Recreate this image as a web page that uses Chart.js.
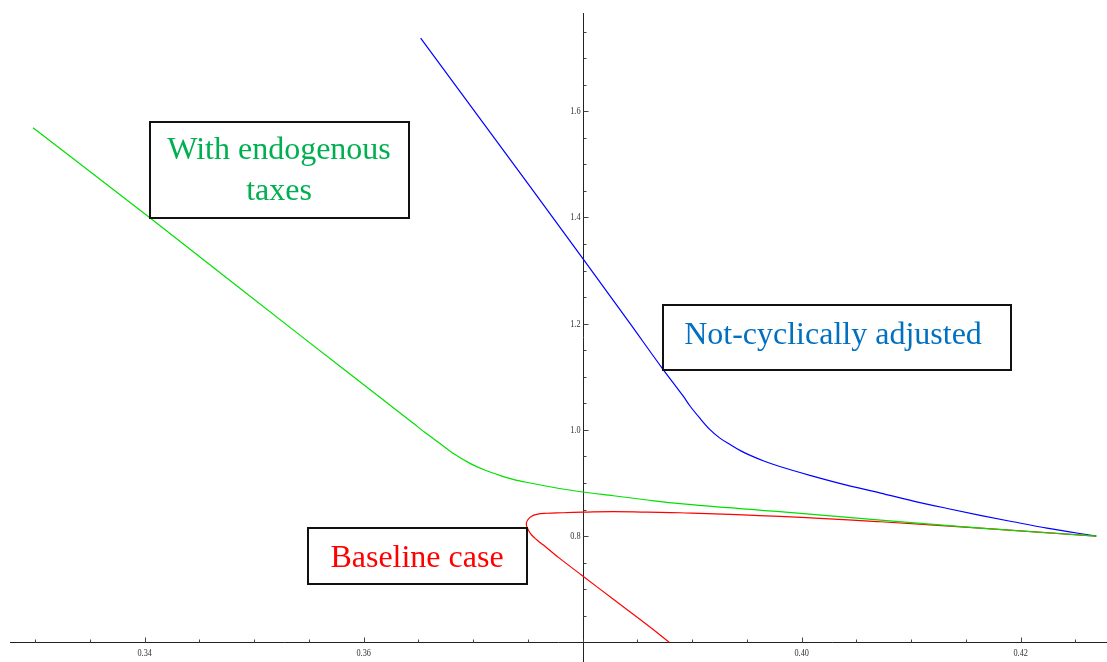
<!DOCTYPE html>
<html>
<head>
<meta charset="utf-8">
<title>Debt limits</title>
<script src="https://cdn.jsdelivr.net/npm/chart.js@4.4.1/dist/chart.umd.min.js"></script>
<style>
  html, body { margin: 0; padding: 0; background: #fff; }
  #wrap { width: 1107px; height: 662px; }
</style>
</head>
<body>
<div id="wrap"><canvas id="plot" width="1107" height="662"></canvas></div>
<script>
// "With endogenous taxes" (green)
const endoX = [0.3298, 0.3405, 0.3542, 0.3645, 0.3656, 0.3670, 0.3683, 0.3697, 0.3711, 0.3725,
               0.3738, 0.3752, 0.3770, 0.3800, 0.3828, 0.3859, 0.3889, 0.3980, 0.4072, 0.4163, 0.4269];
const endoY = [1.569, 1.399, 1.178, 1.013, 0.995, 0.974, 0.954, 0.937, 0.924, 0.914,
               0.906, 0.900, 0.893, 0.883, 0.876, 0.868, 0.861, 0.846, 0.830, 0.815, 0.800];

// "Not-cyclically adjusted" (blue)
const notAdjX = [0.3652, 0.3752, 0.3800, 0.3843, 0.3873, 0.3892, 0.3898, 0.3907, 0.3916, 0.3925,
                 0.3935, 0.3944, 0.3953, 0.3966, 0.3980, 0.4010, 0.4041, 0.4072, 0.4102, 0.4133,
                 0.4163, 0.4193, 0.4224, 0.4269];
const notAdjY = [1.738, 1.458, 1.323, 1.201, 1.115, 1.063, 1.045, 1.022, 1.001, 0.985,
                 0.972, 0.961, 0.952, 0.941, 0.931, 0.913, 0.896, 0.881, 0.866, 0.852,
                 0.839, 0.827, 0.815, 0.800];

// "Baseline case" (red), from the lower end up round the turn and out to the right
const baseX = [0.3879, 0.3862, 0.3828, 0.3800, 0.3779, 0.3766, 0.3758, 0.3753, 0.3750, 0.37485,
               0.3750, 0.3753, 0.3758, 0.3767, 0.3782, 0.3800, 0.3828, 0.3859, 0.3889, 0.3980,
               0.4072, 0.4163, 0.4269];
const baseY = [0.600, 0.628, 0.681, 0.725, 0.758, 0.780, 0.793, 0.803, 0.813, 0.823,
               0.831, 0.837, 0.841, 0.843, 0.844, 0.845, 0.846, 0.845, 0.844, 0.837,
               0.827, 0.815, 0.800];

// axes
const xRange = [0.326785, 0.427881];
const yRange = [0.5629, 1.8096];
const axisOrigin = { x: 0.38, y: 0.6 };
const xTickValues = [0.34, 0.36, 0.40, 0.42];
const xTickLabels = ['0.34', '0.36', '0.40', '0.42'];
const yTickValues = [0.8, 1.0, 1.2, 1.4, 1.6];
const yTickLabels = ['0.8', '1.0', '1.2', '1.4', '1.6'];

const toPoints = (xs, ys) => xs.map((x, i) => ({ x: x, y: ys[i] }));

const drawAxes = {
  id: 'drawAxes',
  beforeDatasetsDraw(chart) {
    const ctx = chart.ctx;
    const sx = chart.scales.x, sy = chart.scales.y;
    const ox = Math.round(sx.getPixelForValue(axisOrigin.x)) + 0.5;
    const oy = Math.round(sy.getPixelForValue(axisOrigin.y)) + 0.5;
    ctx.save();
    ctx.strokeStyle = '#222';
    ctx.lineWidth = 1;
    ctx.beginPath();
    ctx.moveTo(sx.getPixelForValue(0.3277), oy);
    ctx.lineTo(sx.right, oy);
    ctx.moveTo(ox, sy.getPixelForValue(1.785));
    ctx.lineTo(ox, sy.bottom);
    ctx.stroke();

    // tick marks (minor every 0.005 / 0.05, major on labels)
    ctx.strokeStyle = '#444';
    ctx.beginPath();
    for (let v = 0.33; v < 0.4275; v += 0.005) {
      const p = Math.round(sx.getPixelForValue(v)) + 0.5;
      const major = xTickValues.some(t => Math.abs(t - v) < 1e-6);
      ctx.moveTo(p, oy);
      ctx.lineTo(p, oy - (major ? 5 : 3));
    }
    for (let v = 0.65; v < 1.76; v += 0.05) {
      const p = Math.round(sy.getPixelForValue(v)) + 0.5;
      const major = yTickValues.some(t => Math.abs(t - v) < 1e-6);
      ctx.moveTo(ox, p);
      ctx.lineTo(ox + (major ? 5 : 3), p);
    }
    ctx.stroke();

    ctx.fillStyle = '#333';
    ctx.font = '11px "Liberation Serif"';
    ctx.textBaseline = 'middle';
    ctx.textAlign = 'center';
    xTickValues.forEach((v, i) => {
      ctx.save();
      ctx.translate(sx.getPixelForValue(v), oy + 11);
      ctx.scale(0.75, 1);
      ctx.fillText(xTickLabels[i], 0, 0);
      ctx.restore();
    });
    ctx.textAlign = 'right';
    yTickValues.forEach((v, i) => {
      ctx.save();
      ctx.translate(ox - 3, sy.getPixelForValue(v));
      ctx.scale(0.75, 1);
      ctx.fillText(yTickLabels[i], 0, 0);
      ctx.restore();
    });
    ctx.restore();
  }
};

const labelBoxes = [
  { x: 150, y: 122, w: 259, h: 96, color: '#00B050', lines: ['With endogenous', 'taxes'], cx: 279, base: [159, 200] },
  { x: 663, y: 305, w: 348, h: 65, color: '#0070C0', lines: ['Not-cyclically adjusted'], cx: 833, base: [344] },
  { x: 308, y: 528, w: 219, h: 56, color: '#FF0000', lines: ['Baseline case'], cx: 417, base: [567] }
];

const drawBoxes = {
  id: 'drawBoxes',
  afterDatasetsDraw(chart) {
    const ctx = chart.ctx;
    ctx.save();
    labelBoxes.forEach(b => {
      ctx.fillStyle = '#fff';
      ctx.fillRect(b.x, b.y, b.w, b.h);
      ctx.strokeStyle = '#111';
      ctx.lineWidth = 2;
      ctx.strokeRect(b.x, b.y, b.w, b.h);
      ctx.fillStyle = b.color;
      ctx.font = '32px "Liberation Serif"';
      ctx.textAlign = 'center';
      ctx.textBaseline = 'alphabetic';
      b.lines.forEach((t, i) => ctx.fillText(t, b.cx, b.base[i]));
    });
    ctx.restore();
  }
};

const lineSet = (label, pts, color, smooth, tension) => ({
  label: label,
  data: pts,
  showLine: true,
  borderColor: color,
  backgroundColor: color,
  borderWidth: 1.2,
  pointRadius: 0,
  cubicInterpolationMode: smooth,
  tension: tension
});

new Chart(document.getElementById('plot').getContext('2d'), {
  type: 'scatter',
  data: {
    datasets: [
      lineSet('With endogenous taxes', toPoints(endoX, endoY), '#00E000', 'monotone', 0.3),
      lineSet('Baseline case', toPoints(baseX, baseY), '#FF0000', 'default', 0.45),
      lineSet('Not-cyclically adjusted', toPoints(notAdjX, notAdjY), '#0000FF', 'monotone', 0.3)
    ]
  },
  options: {
    responsive: false,
    animation: false,
    layout: { padding: 0 },
    plugins: { legend: { display: false }, tooltip: { enabled: false } },
    scales: {
      x: { type: 'linear', min: xRange[0], max: xRange[1], display: false },
      y: { type: 'linear', min: yRange[0], max: yRange[1], display: false }
    }
  },
  plugins: [drawAxes, drawBoxes]
});
</script>
</body>
</html>
